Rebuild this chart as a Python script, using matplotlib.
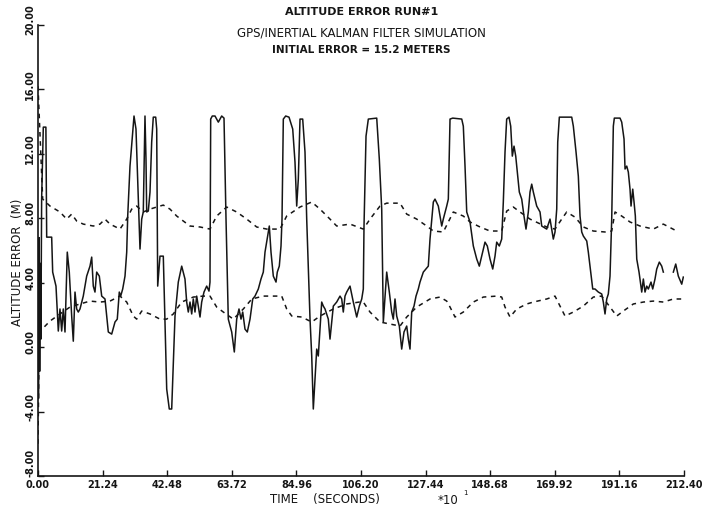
import matplotlib.pyplot as plt
import matplotlib.transforms as mtransforms
import numpy as np

# altitude error (solid), time in units of 10 s
err_t = [0.0, 0.15, 0.35, 0.55, 0.75, 0.95, 1.2, 1.75, 2.6, 2.86, 4.50, 4.83, 5.92, 6.68, 7.23,
         7.79, 8.32, 8.88, 9.63, 10.29, 11.08, 11.61, 12.17, 12.72, 13.25, 13.81, 14.89, 16.01,
         17.10, 17.66, 18.18, 18.74, 19.30, 20.16, 20.95, 22.03, 23.12, 24.23, 25.32, 26.07,
         26.73, 27.19, 27.85, 28.61, 29.17, 29.50, 30.25, 31.57, 32.22, 32.65, 33.54, 34.10,
         34.62, 35.18, 35.51, 35.74, 36.27, 36.83, 37.38, 37.91, 38.70, 39.03, 39.36, 40.11,
         41.20, 42.32, 43.17, 43.96, 45.05, 46.13, 47.25, 48.33, 48.89, 49.42, 49.98, 50.54,
         51.06, 51.62, 52.18, 52.71, 53.27, 53.82, 54.58, 55.47, 56.22, 56.55, 56.78, 57.31,
         58.20, 59.29, 60.40, 61.16, 61.49, 61.82, 62.57, 63.69, 64.55, 65.33, 66.09, 66.75,
         67.31, 68.06, 68.82, 69.71, 70.60, 71.35, 72.44, 73.32, 74.08, 74.64, 75.53, 76.05,
         76.61, 77.37, 78.26, 78.68, 79.34, 79.90, 80.23, 80.66, 81.44, 82.53, 83.75, 84.50,
         85.06, 85.59, 86.15, 87.03, 87.79, 88.35, 89.44, 90.00, 90.52, 91.64, 92.16, 92.72,
         93.28, 93.81, 94.37, 95.45, 96.01, 96.57, 97.10, 98.21, 99.30, 99.86, 100.38, 100.94,
         101.50, 102.59, 103.67, 104.79, 105.65, 106.44, 106.96, 107.19, 107.85, 108.61,
         111.37, 112.22, 113.01, 113.54, 114.65, 115.51, 116.30, 116.82, 117.38, 117.94,
         118.80, 119.58, 120.34, 121.23, 121.76, 122.31, 122.87, 123.63, 124.29, 125.04,
         125.60, 126.69, 128.33, 128.89, 129.98, 130.53, 131.62, 132.74, 133.26, 134.38,
         134.91, 135.47, 136.36, 139.32, 139.84, 140.40, 140.96, 142.04, 143.13, 144.25,
         145.10, 145.89, 146.97, 147.73, 148.62, 149.51, 150.26, 150.82, 151.67, 152.46,
         152.99, 153.55, 154.10, 154.86, 155.42, 155.95, 156.51, 157.07, 157.72, 158.25,
         159.04, 159.79, 160.45, 161.21, 161.77, 162.33, 162.86, 163.97, 165.06, 165.62,
         166.15, 167.26, 168.35, 168.90, 169.43, 169.99, 170.55, 170.88, 171.41, 175.48,
         176.01, 176.90, 177.65, 178.21, 178.77, 179.30, 180.42, 180.94, 181.50, 182.39,
         183.14, 184.23, 185.35, 185.87, 186.43, 186.99, 187.51, 188.07, 188.63, 189.16,
         189.49, 191.36, 191.92, 192.68, 193.01, 193.57, 194.09, 194.65, 194.98, 195.54,
         195.97, 196.40, 196.86, 197.61, 198.50, 199.03, 199.58, 200.14, 200.67, 201.55,
         202.11, 202.86, 203.43, 204.28, 205.07, 205.60, 207.0, 208.89, 209.68, 210.53,
         211.65, 212.17]
err_m = [6.0, -3.2, 6.8, -1.5, 5.2, 0.5, 9.2, 13.66, 13.66, 6.83, 6.83, 4.66, 3.79, 1.00, 2.37,
         1.00, 2.37, 0.94, 5.90, 4.66, 1.93, 0.37, 3.42, 2.37, 2.18, 2.37, 3.17, 4.41,
         5.03, 5.59, 3.79, 3.42, 4.66, 4.41, 3.17, 2.99, 0.94, 0.81, 1.56, 1.74,
         3.42, 3.17, 3.61, 4.41, 5.90, 8.14, 11.24, 14.35, 13.54, 11.06, 6.09, 7.95,
         8.39, 14.35, 11.68, 8.39, 8.45, 9.63, 12.73, 14.28, 14.28, 13.54, 3.79, 5.65,
         5.65, -2.60, -3.84, -3.84, 1.93, 4.04, 5.03, 4.23, 2.80, 2.18, 2.80, 2.06,
         2.99, 2.18, 3.17, 2.55, 1.87, 2.80, 3.42, 3.79, 3.48, 4.04, 14.16, 14.35,
         14.35, 13.97, 14.35, 14.22, 11.06, 7.95, 1.74, 0.94, -0.30, 1.74, 2.37, 1.74,
         2.18, 1.12, 0.94, 1.74, 2.99, 3.17, 3.61, 4.23, 4.66, 5.90, 6.90, 7.52,
         5.90, 4.41, 4.04, 4.66, 5.03, 6.28, 7.95, 14.16, 14.35, 14.28, 13.54, 11.49,
         8.76, 10.43, 14.16, 14.16, 12.11, 7.95, 1.74, -0.55, -3.84, -0.12, -0.55, 1.12,
         2.80, 2.55, 2.37, 1.74, 0.50, 1.56, 2.55, 2.80, 3.17, 2.99, 2.18, 3.17,
         3.42, 3.79, 2.80, 1.87, 2.55, 2.99, 3.61, 7.52, 13.10, 14.16,
         14.22, 11.68, 8.57, 1.56, 4.66, 3.42, 2.18, 1.74, 2.99, 1.93,
         1.31, -0.12, 0.94, 1.31, 0.50, -0.12, 2.18, 2.55, 3.17, 3.61,
         4.04, 4.66, 5.03, 6.71, 9.01, 9.19, 8.76, 7.52, 7.95, 8.76,
         9.19, 14.16, 14.22, 14.16, 13.72, 11.24, 8.39, 7.77, 6.28, 5.47,
         5.03, 5.65, 6.52, 6.28, 5.47, 4.85, 5.65, 6.52, 6.28, 6.71,
         9.01, 12.11, 14.16, 14.28, 13.72, 11.86, 12.48, 11.86, 10.62, 9.63,
         9.19, 8.14, 7.33, 8.39, 9.63, 10.12, 9.63, 8.76, 8.39, 7.52,
         7.46, 7.33, 7.95, 7.33, 6.71, 7.15, 8.57, 12.73, 14.28, 14.28,
         13.72, 12.11, 10.62, 8.14, 7.15, 6.90, 6.59, 5.90, 5.03, 3.61,
         3.61, 3.42, 3.30, 2.80, 2.06, 2.99, 3.30, 4.41, 7.95, 13.72,
         14.22, 14.22, 13.97, 12.92, 11.06, 11.24, 10.87, 9.81, 8.76, 9.81,
         9.01, 8.14, 5.47, 4.66, 3.42, 4.23, 3.42, 3.79, 3.61, 4.04,
         3.61, 4.23, 4.85, 5.28, 5.03, 4.66, np.nan, 4.66, 5.16, 4.41,
         3.91, 4.35]

# upper and lower dashed envelopes
upper_t = [0.0, 1.55, 3.95, 7.23, 9.44, 11.08, 12.72, 14.89, 18.18, 20.39, 22.03, 23.67, 26.96,
           29.17, 30.81, 32.45, 34.62, 36.83, 39.03, 41.20, 43.40, 45.61, 47.78, 49.98, 53.27,
           56.55, 58.75, 62.04, 65.33, 68.62, 71.91, 75.20, 79.57, 81.77, 86.15, 90.00, 92.72,
           96.01, 98.21, 102.59, 106.96, 109.16, 112.45, 114.65, 119.03, 121.23, 124.52,
           127.80, 129.98, 133.26, 136.55, 139.84, 142.04, 145.33, 148.62, 152.46, 154.10,
           156.28, 158.48, 161.77, 167.26, 169.99, 172.19, 173.83, 176.57, 179.30, 182.58,
           186.43, 188.63, 189.72, 191.92, 194.65, 197.94, 202.31, 205.60, 210.00]
upper_m = [16.2, 9.19, 8.76, 8.39, 7.95, 8.26, 7.83, 7.64, 7.52, 7.64, 7.95, 7.64, 7.33,
           7.95, 8.57, 8.76, 8.39, 8.57, 8.70, 8.82, 8.57, 8.14, 7.83, 7.52, 7.46,
           7.33, 8.14, 8.70, 8.39, 7.95, 7.46, 7.33, 7.33, 8.14, 8.70, 9.01, 8.57,
           7.95, 7.52, 7.64, 7.33, 7.95, 8.76, 8.94, 8.94, 8.26, 7.95,
           7.52, 7.21, 7.15, 8.39, 8.14, 7.77, 7.46, 7.21, 7.21, 8.45,
           8.70, 8.39, 7.95, 7.46, 7.33, 7.95, 8.39, 8.07, 7.46, 7.21,
           7.15, 7.21, 8.39, 8.14, 7.77, 7.52, 7.33, 7.64, 7.21]

lower_t = [0.0, 0.43, 3.95, 7.23, 10.52, 13.81, 17.10, 20.39, 23.67, 26.96, 29.17, 31.34, 32.45,
           34.10, 36.83, 40.11, 42.32, 44.49, 47.25, 51.06, 54.35, 56.55, 58.75, 60.93, 64.22,
           67.51, 70.30, 74.08, 77.37, 80.13, 81.77, 83.45, 86.73, 90.00, 92.72, 97.10, 101.50,
           105.65, 106.96, 109.16, 112.45, 119.03, 121.23, 124.52, 128.89, 132.18, 134.38,
           135.47, 137.11, 139.84, 143.13, 146.42, 150.82, 152.46, 153.55, 155.19, 157.40,
           160.69, 162.86, 167.26, 169.99, 171.63, 173.28, 176.01, 179.30, 182.58, 185.35,
           188.07, 190.27, 192.44, 195.73, 199.03, 202.31, 205.60, 208.89, 211.65]
lower_m = [-6.0, 0.94, 1.62, 2.06, 2.49, 2.68, 2.86, 2.80, 2.86, 3.17, 2.80, 1.93, 1.74,
           2.24, 2.06, 1.74, 1.74, 2.06, 2.80, 3.11, 3.17, 3.17, 2.49, 2.18, 1.74,
           2.37, 2.99, 3.17, 3.17, 3.17, 2.37, 1.93, 1.87, 1.56, 1.93, 2.37, 2.68,
           2.80, 2.80, 2.18, 1.56, 1.31, 1.87, 2.49, 2.99, 3.11, 2.86,
           2.49, 1.87, 2.18, 2.80, 3.11, 3.17, 3.11, 2.49, 1.87, 2.37,
           2.68, 2.80, 2.99, 3.17, 2.55, 1.93, 2.18, 2.55, 3.11, 3.17,
           2.49, 1.93, 2.24, 2.68, 2.80, 2.86, 2.80, 2.99, 2.99]

x_ticks = [0.0, 21.24, 42.48, 63.72, 84.96, 106.20, 127.44, 148.68, 169.92, 191.16, 212.40]
y_ticks = [-8, -4, 0, 4, 8, 12, 16, 20]

ink = '#151515'

fig = plt.figure(figsize=(7.14, 5.10), dpi=100)
ax = fig.add_axes([0.0532, 0.0647, 0.9048, 0.8843])

ax.plot(err_t, err_m, color=ink, lw=1.1)
ax.plot(upper_t, upper_m, color=ink, lw=1.1, dashes=(3, 3))
ax.plot(lower_t, lower_m, color=ink, lw=1.1, dashes=(3, 3))

ax.set_xlim(0, 212.4)
ax.set_ylim(-8, 20)
for side in ['top', 'right']:
    ax.spines[side].set_visible(False)
for side in ['left', 'bottom']:
    ax.spines[side].set_linewidth(1.2)
    ax.spines[side].set_color(ink)

ax.set_xticks(x_ticks)
ax.set_xticklabels(['%.2f' % v for v in x_ticks], fontsize=7, fontweight='bold', color=ink)
ax.set_yticks(y_ticks)
ax.set_yticklabels(['%.2f' % v for v in y_ticks], fontsize=7, fontweight='bold', color=ink,
                   rotation=90, va='center')
ax.tick_params(direction='in', length=4, width=1, color=ink, pad=2)

# y labels sit a little above their ticks, the lowest one clear of the corner
for lab, v in zip(ax.get_yticklabels(), y_ticks):
    up = 0.14 if v == -8 else 0.06
    lab.set_transform(lab.get_transform() + mtransforms.ScaledTranslation(0, up, fig.dpi_scale_trans))

fig.text(0.455, 0.014, 'TIME    (SECONDS)', ha='center', fontsize=8.5, color=ink)
fig.text(0.628, 0.012, '*10', ha='center', fontsize=8.5, color=ink)
fig.text(0.652, 0.030, '1', ha='center', fontsize=5, color=ink)
fig.text(0.024, 0.485, 'ALTITUDE ERROR  (M)', rotation=90, ha='center', va='center',
         fontsize=8.5, color=ink)

fig.text(0.506, 0.976, 'ALTITUDE ERROR RUN#1', ha='center', va='center', fontsize=8,
         fontweight='bold', color=ink)
fig.text(0.506, 0.935, 'GPS/INERTIAL KALMAN FILTER SIMULATION', ha='center', va='center',
         fontsize=8.5, color=ink)
fig.text(0.506, 0.901, 'INITIAL ERROR = 15.2 METERS', ha='center', va='center', fontsize=7.5,
         fontweight='bold', color=ink)

fig.savefig('out.png', dpi=100)
